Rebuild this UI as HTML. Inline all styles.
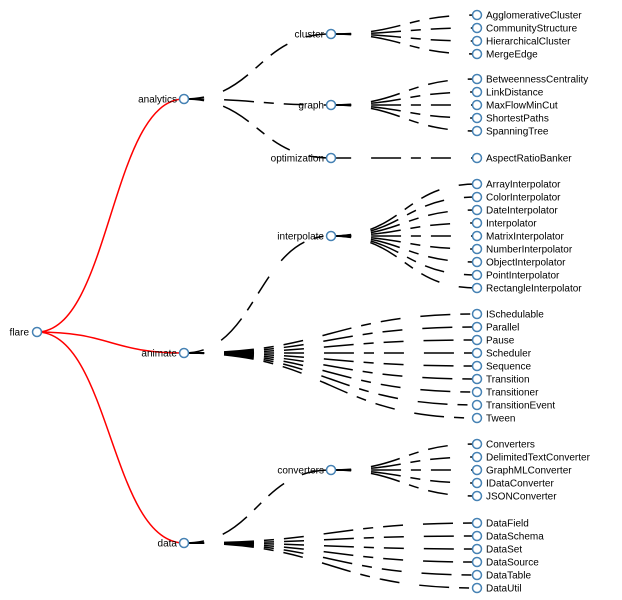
<!DOCTYPE html>
<html><head><meta charset="utf-8"><style>
html,body{margin:0;padding:0;background:#fff;}
svg{display:block;font-family:"Liberation Sans",Arial,sans-serif;font-size:10px;}
.l{fill:none;stroke:#000;stroke-width:1.5;stroke-dasharray:20,20,30,10,10,10;}
.r{fill:none;stroke:red;stroke-width:1.5;}
circle{fill:#fff;stroke:steelblue;stroke-width:1.5;}
.e{text-anchor:end;}
</style></head><body>
<svg width="622" height="600" viewBox="0 0 622 600">
<g>
<path class="r" d="M37,332C110.5,332 110.5,99 184,99"/>
<path class="r" d="M37,332C110.5,332 110.5,353 184,353"/>
<path class="r" d="M37,332C110.5,332 110.5,543 184,543"/>

<path class="l" d="M184,99C257.5,99 257.5,34 331,34"/>
<path class="l" d="M184,99C257.5,99 257.5,105 331,105"/>
<path class="l" d="M184,99C257.5,99 257.5,158 331,158"/>
<path class="l" d="M184,353C257.5,353 257.5,236 331,236"/>
<path class="l" d="M184,543C257.5,543 257.5,470 331,470"/>

<path class="l" d="M331,34C404,34 404,15 477,15"/>
<path class="l" d="M331,34C404,34 404,28 477,28"/>
<path class="l" d="M331,34C404,34 404,41 477,41"/>
<path class="l" d="M331,34C404,34 404,54 477,54"/>
<path class="l" d="M331,105C404,105 404,79 477,79"/>
<path class="l" d="M331,105C404,105 404,92 477,92"/>
<path class="l" d="M331,105C404,105 404,105 477,105"/>
<path class="l" d="M331,105C404,105 404,118 477,118"/>
<path class="l" d="M331,105C404,105 404,131 477,131"/>
<path class="l" d="M331,158C404,158 404,158 477,158"/>
<path class="l" d="M331,236C404,236 404,184 477,184"/>
<path class="l" d="M331,236C404,236 404,197 477,197"/>
<path class="l" d="M331,236C404,236 404,210 477,210"/>
<path class="l" d="M331,236C404,236 404,223 477,223"/>
<path class="l" d="M331,236C404,236 404,236 477,236"/>
<path class="l" d="M331,236C404,236 404,249 477,249"/>
<path class="l" d="M331,236C404,236 404,262 477,262"/>
<path class="l" d="M331,236C404,236 404,275 477,275"/>
<path class="l" d="M331,236C404,236 404,288 477,288"/>
<path class="l" d="M331,470C404,470 404,444 477,444"/>
<path class="l" d="M331,470C404,470 404,457 477,457"/>
<path class="l" d="M331,470C404,470 404,470 477,470"/>
<path class="l" d="M331,470C404,470 404,483 477,483"/>
<path class="l" d="M331,470C404,470 404,496 477,496"/>

<path class="l" d="M184,353C330.5,353 330.5,314 477,314"/>
<path class="l" d="M184,353C330.5,353 330.5,327 477,327"/>
<path class="l" d="M184,353C330.5,353 330.5,340 477,340"/>
<path class="l" d="M184,353C330.5,353 330.5,353 477,353"/>
<path class="l" d="M184,353C330.5,353 330.5,366 477,366"/>
<path class="l" d="M184,353C330.5,353 330.5,379 477,379"/>
<path class="l" d="M184,353C330.5,353 330.5,392 477,392"/>
<path class="l" d="M184,353C330.5,353 330.5,405 477,405"/>
<path class="l" d="M184,353C330.5,353 330.5,418 477,418"/>
<path class="l" d="M184,543C330.5,543 330.5,523 477,523"/>
<path class="l" d="M184,543C330.5,543 330.5,536 477,536"/>
<path class="l" d="M184,543C330.5,543 330.5,549 477,549"/>
<path class="l" d="M184,543C330.5,543 330.5,562 477,562"/>
<path class="l" d="M184,543C330.5,543 330.5,575 477,575"/>
<path class="l" d="M184,543C330.5,543 330.5,588 477,588"/>
</g>
<g>
<circle cx="37" cy="332" r="4.5"/><circle cx="184" cy="99" r="4.5"/><circle cx="184" cy="353" r="4.5"/><circle cx="184" cy="543" r="4.5"/>
<circle cx="331" cy="34" r="4.5"/><circle cx="331" cy="105" r="4.5"/><circle cx="331" cy="158" r="4.5"/><circle cx="331" cy="236" r="4.5"/><circle cx="331" cy="470" r="4.5"/>
<circle cx="477" cy="15" r="4.5"/><circle cx="477" cy="28" r="4.5"/><circle cx="477" cy="41" r="4.5"/><circle cx="477" cy="54" r="4.5"/>
<circle cx="477" cy="79" r="4.5"/><circle cx="477" cy="92" r="4.5"/><circle cx="477" cy="105" r="4.5"/><circle cx="477" cy="118" r="4.5"/><circle cx="477" cy="131" r="4.5"/>
<circle cx="477" cy="158" r="4.5"/>
<circle cx="477" cy="184" r="4.5"/><circle cx="477" cy="197" r="4.5"/><circle cx="477" cy="210" r="4.5"/><circle cx="477" cy="223" r="4.5"/><circle cx="477" cy="236" r="4.5"/><circle cx="477" cy="249" r="4.5"/><circle cx="477" cy="262" r="4.5"/><circle cx="477" cy="275" r="4.5"/><circle cx="477" cy="288" r="4.5"/>
<circle cx="477" cy="314" r="4.5"/><circle cx="477" cy="327" r="4.5"/><circle cx="477" cy="340" r="4.5"/><circle cx="477" cy="353" r="4.5"/><circle cx="477" cy="366" r="4.5"/><circle cx="477" cy="379" r="4.5"/><circle cx="477" cy="392" r="4.5"/><circle cx="477" cy="405" r="4.5"/><circle cx="477" cy="418" r="4.5"/>
<circle cx="477" cy="444" r="4.5"/><circle cx="477" cy="457" r="4.5"/><circle cx="477" cy="470" r="4.5"/><circle cx="477" cy="483" r="4.5"/><circle cx="477" cy="496" r="4.5"/>
<circle cx="477" cy="523" r="4.5"/><circle cx="477" cy="536" r="4.5"/><circle cx="477" cy="549" r="4.5"/><circle cx="477" cy="562" r="4.5"/><circle cx="477" cy="575" r="4.5"/><circle cx="477" cy="588" r="4.5"/>
</g>
<g>
<text class="e" x="29" y="335.5">flare</text>
<text class="e" x="177" y="102.5">analytics</text>
<text class="e" x="177" y="356.5">animate</text>
<text class="e" x="177" y="546.5">data</text>
<text class="e" x="324" y="37.5">cluster</text>
<text class="e" x="324" y="108.5">graph</text>
<text class="e" x="324" y="161.5">optimization</text>
<text class="e" x="324" y="239.5">interpolate</text>
<text class="e" x="324" y="473.5">converters</text>
<text x="486" y="18.5">AgglomerativeCluster</text>
<text x="486" y="31.5">CommunityStructure</text>
<text x="486" y="44.5">HierarchicalCluster</text>
<text x="486" y="57.5">MergeEdge</text>
<text x="486" y="82.5">BetweennessCentrality</text>
<text x="486" y="95.5">LinkDistance</text>
<text x="486" y="108.5">MaxFlowMinCut</text>
<text x="486" y="121.5">ShortestPaths</text>
<text x="486" y="134.5">SpanningTree</text>
<text x="486" y="161.5">AspectRatioBanker</text>
<text x="486" y="187.5">ArrayInterpolator</text>
<text x="486" y="200.5">ColorInterpolator</text>
<text x="486" y="213.5">DateInterpolator</text>
<text x="486" y="226.5">Interpolator</text>
<text x="486" y="239.5">MatrixInterpolator</text>
<text x="486" y="252.5">NumberInterpolator</text>
<text x="486" y="265.5">ObjectInterpolator</text>
<text x="486" y="278.5">PointInterpolator</text>
<text x="486" y="291.5">RectangleInterpolator</text>
<text x="486" y="317.5">ISchedulable</text>
<text x="486" y="330.5">Parallel</text>
<text x="486" y="343.5">Pause</text>
<text x="486" y="356.5">Scheduler</text>
<text x="486" y="369.5">Sequence</text>
<text x="486" y="382.5">Transition</text>
<text x="486" y="395.5">Transitioner</text>
<text x="486" y="408.5">TransitionEvent</text>
<text x="486" y="421.5">Tween</text>
<text x="486" y="447.5">Converters</text>
<text x="486" y="460.5">DelimitedTextConverter</text>
<text x="486" y="473.5">GraphMLConverter</text>
<text x="486" y="486.5">IDataConverter</text>
<text x="486" y="499.5">JSONConverter</text>
<text x="486" y="526.5">DataField</text>
<text x="486" y="539.5">DataSchema</text>
<text x="486" y="552.5">DataSet</text>
<text x="486" y="565.5">DataSource</text>
<text x="486" y="578.5">DataTable</text>
<text x="486" y="591.5">DataUtil</text>
</g>
</svg>
</body></html>
